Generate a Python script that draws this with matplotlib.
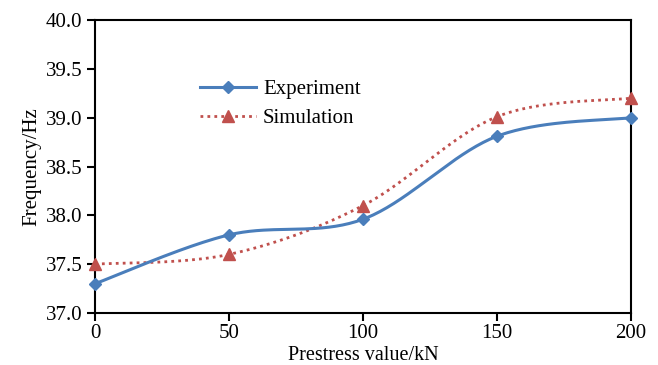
import numpy as np
import matplotlib
matplotlib.use("Agg")
import matplotlib.pyplot as plt

plt.rcParams['font.family'] = ['Liberation Serif', 'DejaVu Serif']

# data
prestress = [0, 50, 100, 150, 200]
experiment = [37.3, 37.8, 37.96, 38.81, 39.0]
simulation = [37.5, 37.6, 38.1, 39.01, 39.2]


def smooth(x, y, n=40):
    # Excel-style smoothed line (cubic Bezier through the points)
    x = np.asarray(x, float)
    y = np.asarray(y, float)
    xs, ys = [], []
    t = np.linspace(0, 1, n)
    for i in range(len(x) - 1):
        p0 = np.array([x[max(i - 1, 0)], y[max(i - 1, 0)]])
        p1 = np.array([x[i], y[i]])
        p2 = np.array([x[i + 1], y[i + 1]])
        p3 = np.array([x[min(i + 2, len(x) - 1)], y[min(i + 2, len(x) - 1)]])
        c1 = p1 + (p2 - p0) / 6
        c2 = p2 - (p3 - p1) / 6
        pts = ((1 - t) ** 3)[:, None] * p1 + (3 * (1 - t) ** 2 * t)[:, None] * c1 \
            + (3 * (1 - t) * t ** 2)[:, None] * c2 + (t ** 3)[:, None] * p2
        xs.extend(pts[:, 0])
        ys.extend(pts[:, 1])
    return xs, ys


blue = '#4A7EBB'
red = '#C0504D'

fig = plt.figure(figsize=(6.58, 3.65), dpi=100)
ax = fig.add_axes([95 / 658, 1 - 313 / 365, 536 / 658, 293 / 365])

sx, sy = smooth(prestress, simulation)
ax.plot(sx, sy, color=red, lw=2, linestyle=(0, (1, 1.5)))
ax.plot(prestress, simulation, linestyle='none', marker='^', ms=8,
        color=red, clip_on=False, zorder=3)

ex, ey = smooth(prestress, experiment)
ax.plot(ex, ey, color=blue, lw=2.2)
ax.plot(prestress, experiment, linestyle='none', marker='D', ms=6,
        color=blue, clip_on=False, zorder=4)

# legend handles
ax.plot([], [], color=blue, lw=2.2, marker='D', ms=6, label='Experiment')
ax.plot([], [], color=red, lw=2, linestyle=(0, (1, 1.5)), marker='^', ms=8,
        label='Simulation')
handles, labels = ax.get_legend_handles_labels()
ax.legend(handles, labels, loc='upper left', bbox_to_anchor=(0.16, 0.86),
          frameon=False, fontsize=15, handlelength=2.7, handletextpad=0.35,
          labelspacing=0.45)

ax.set_xlim(0, 200)
ax.set_ylim(37.0, 40.0)
ax.set_xticks(prestress)
ax.set_yticks(np.arange(37.0, 40.01, 0.5))
ax.set_yticklabels([f'{v:.1f}' for v in np.arange(37.0, 40.01, 0.5)])
ax.tick_params(direction='out', length=6, width=1.5, labelsize=15, pad=3)
ax.tick_params(axis='x', pad=2)
for s in ax.spines.values():
    s.set_linewidth(1.5)

ax.set_ylabel('Frequency/Hz', fontsize=15, labelpad=3)
# x label sits right under the tick labels, as in the original
fig.text(363 / 658, 0.0, 'Prestress value/kN', fontsize=14.5,
         ha='center', va='bottom')

fig.savefig('out.png', dpi=100)
